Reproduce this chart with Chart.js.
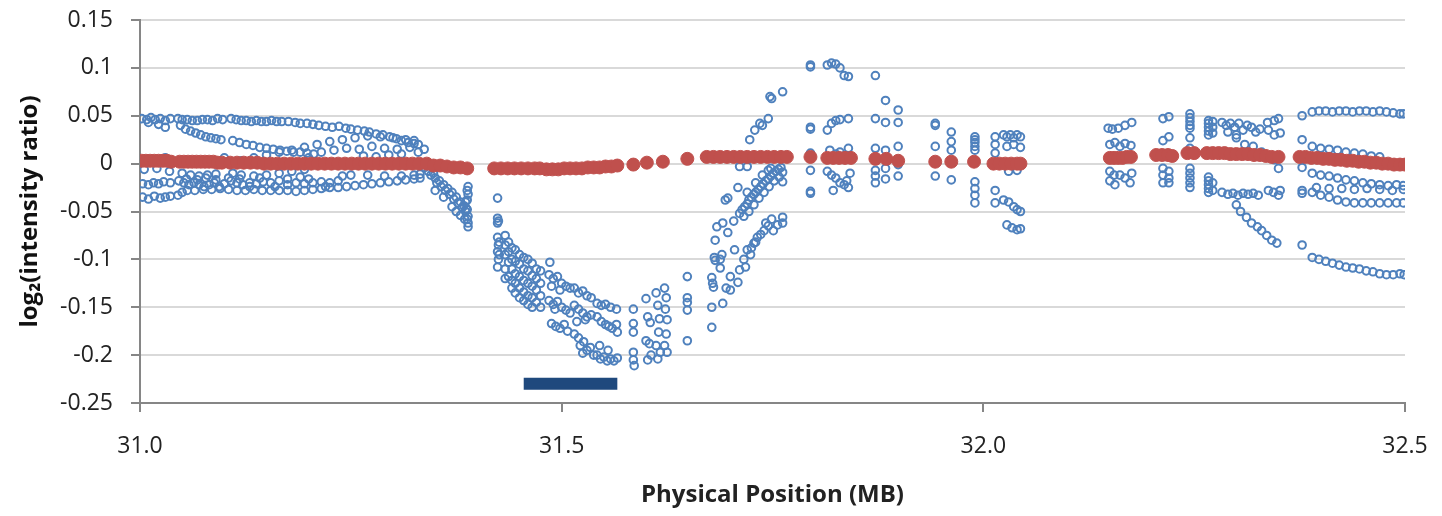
<!DOCTYPE html>
<html lang="en">
<head>
  <meta charset="UTF-8" />
  <title>log2 intensity ratio vs physical position</title>
  <script src="https://cdn.jsdelivr.net/npm/chart.js"></script>
  <style>
    body { margin: 0; background: #fff; }
  </style>
</head>
<body>
  <canvas id="chart" width="1442" height="516"></canvas>
  <script>
    // probes as [position MB, log2 ratio]
    const blueLeft = [
      [31.002,0.047],[31.008,0.046],[31.013,0.048],[31.018,0.046],[31.024,0.047],[31.030,0.045],[31.036,0.047],[31.010,0.043],[31.022,0.041],[31.030,0.038],
      [31.045,0.047],[31.050,0.046],[31.056,0.046],[31.062,0.045],[31.068,0.045],[31.074,0.046],[31.080,0.046],[31.086,0.045],[31.092,0.047],[31.098,0.046],
      [31.108,0.047],[31.114,0.046],[31.120,0.045],[31.126,0.045],[31.132,0.044],[31.138,0.045],[31.144,0.044],[31.150,0.044],[31.156,0.045],[31.162,0.044],[31.168,0.044],
      [31.176,0.044],[31.184,0.043],[31.190,0.042],[31.198,0.042],[31.205,0.041],[31.212,0.040],[31.220,0.039],[31.228,0.038],[31.236,0.039],[31.244,0.037],[31.250,0.036],
      [31.258,0.035],[31.266,0.034],[31.272,0.033],[31.280,0.031],[31.288,0.030],[31.296,0.028],[31.304,0.026],[31.310,0.024],[31.318,0.022],[31.325,0.021],[31.330,0.020],
      [31.048,0.040],[31.054,0.036],[31.060,0.034],[31.066,0.032],[31.072,0.030],[31.078,0.028],[31.084,0.027],[31.090,0.026],[31.096,0.025],
      [31.110,0.024],[31.118,0.022],[31.126,0.020],[31.134,0.019],[31.142,0.017],[31.150,0.016],[31.158,0.015],[31.166,0.014],[31.174,0.013],[31.182,0.012],[31.190,0.012],[31.198,0.011],[31.206,0.010],
      [31.120,0.003],[31.135,0.006],[31.150,0.009],[31.165,0.012],[31.180,0.014],[31.195,0.017],[31.210,0.020],[31.225,0.023],[31.240,0.025],[31.255,0.027],[31.270,0.029],[31.285,0.028],[31.300,0.027],[31.315,0.025],[31.325,0.024],
      [31.215,0.012],[31.230,0.014],[31.245,0.016],[31.260,0.015],[31.275,0.018],[31.290,0.016],[31.305,0.015],[31.320,0.017],[31.310,0.010],[31.330,0.012],[31.295,0.009],[31.265,0.008],
      [31.005,-0.006],[31.020,-0.005],[31.035,-0.008],[31.050,-0.010],[31.060,-0.012],[31.070,-0.013],[31.080,-0.012],[31.090,-0.011],[31.110,-0.010],[31.120,-0.012],[31.135,-0.013],
      [31.150,-0.012],[31.165,-0.010],[31.180,-0.008],[31.195,-0.006],[31.250,-0.012],[31.270,-0.012],[31.290,-0.013],[31.310,-0.013],[31.325,-0.012],[31.332,-0.011],
      [31.003,-0.021],[31.010,-0.022],[31.016,-0.020],[31.022,-0.021],[31.028,-0.019],[31.036,-0.020],[31.046,-0.018],[31.052,-0.020],[31.058,-0.022],[31.064,-0.020],[31.070,-0.022],
      [31.076,-0.024],[31.082,-0.022],[31.088,-0.020],[31.094,-0.024],[31.100,-0.021],[31.108,-0.018],[31.115,-0.020],[31.122,-0.022],[31.130,-0.020],[31.138,-0.021],[31.146,-0.019],
      [31.155,-0.020],[31.165,-0.018],[31.175,-0.016],[31.185,-0.020],[31.195,-0.021],[31.205,-0.020],[31.215,-0.019],[31.225,-0.020],[31.235,-0.018],
      [31.003,-0.035],[31.010,-0.037],[31.017,-0.034],[31.024,-0.036],[31.030,-0.035],[31.036,-0.034],[31.045,-0.033],[31.050,-0.030],[31.056,-0.028],[31.065,-0.028],[31.075,-0.027],
      [31.085,-0.027],[31.095,-0.026],[31.105,-0.027],[31.115,-0.028],[31.125,-0.028],[31.135,-0.027],[31.145,-0.028],[31.155,-0.028],[31.165,-0.028],[31.175,-0.028],[31.185,-0.029],
      [31.195,-0.028],[31.205,-0.027],[31.215,-0.026],[31.225,-0.025],[31.235,-0.025],[31.245,-0.024],[31.255,-0.023],[31.265,-0.022],[31.275,-0.021],[31.285,-0.020],[31.295,-0.019],
      [31.305,-0.018],[31.315,-0.017],[31.325,-0.016],[31.332,-0.015],
      [31.055,-0.016],[31.068,-0.017],[31.078,-0.015],[31.090,-0.017],[31.105,-0.015],[31.118,-0.016],[31.130,-0.024],[31.142,-0.015],[31.160,-0.024],[31.175,-0.022],[31.190,-0.014],
      [31.200,-0.016],[31.220,-0.024],[31.240,-0.013],[31.030,0.006],[31.100,0.006],[31.200,0.006],[31.280,0.007]
    ];

    const blueDip = [
      [31.337,0.015],[31.338,-0.004],[31.342,-0.008],[31.345,-0.012],[31.348,-0.010],[31.350,-0.015],[31.352,-0.020],[31.355,-0.018],[31.357,-0.024],[31.360,-0.022],[31.362,-0.028],
      [31.365,-0.026],[31.367,-0.032],[31.370,-0.030],[31.372,-0.037],[31.375,-0.035],[31.377,-0.041],[31.380,-0.040],[31.382,-0.046],[31.384,-0.044],[31.386,-0.050],[31.388,-0.048],
      [31.389,-0.055],[31.388,-0.058],[31.389,-0.062],[31.389,-0.066],[31.388,-0.038],[31.389,-0.032],[31.388,-0.028],[31.389,-0.024],[31.387,-0.047],[31.380,-0.054],[31.370,-0.045],
      [31.360,-0.035],[31.350,-0.028],[31.385,-0.058],[31.375,-0.050],[31.386,-0.040],
      [31.424,-0.036],[31.424,-0.057],[31.425,-0.060],[31.424,-0.062],[31.424,-0.077],[31.425,-0.085],[31.424,-0.092],[31.425,-0.100],[31.424,-0.108],[31.426,-0.082],[31.426,-0.095],
      [31.433,-0.075],[31.433,-0.085],[31.433,-0.095],[31.433,-0.110],[31.433,-0.120],
      [31.437,-0.082],[31.437,-0.092],[31.437,-0.103],[31.437,-0.118],
      [31.441,-0.088],[31.441,-0.100],[31.441,-0.110],[31.441,-0.122],[31.441,-0.130],
      [31.445,-0.090],[31.445,-0.102],[31.445,-0.115],[31.445,-0.125],[31.445,-0.135],
      [31.450,-0.095],[31.450,-0.105],[31.450,-0.118],[31.450,-0.130],[31.450,-0.140],
      [31.455,-0.098],[31.455,-0.110],[31.455,-0.122],[31.455,-0.134],[31.455,-0.143],
      [31.460,-0.100],[31.460,-0.112],[31.460,-0.125],[31.460,-0.138],[31.460,-0.147],
      [31.465,-0.104],[31.465,-0.117],[31.465,-0.128],[31.465,-0.140],[31.465,-0.150],
      [31.470,-0.110],[31.470,-0.120],[31.470,-0.132],[31.470,-0.145],
      [31.475,-0.112],[31.475,-0.125],[31.475,-0.138],[31.475,-0.150],
      [31.486,-0.103],[31.485,-0.116],[31.490,-0.120],[31.495,-0.118],[31.500,-0.125],[31.505,-0.128],[31.510,-0.130],[31.488,-0.128],[31.498,-0.132],
      [31.485,-0.143],[31.490,-0.147],[31.495,-0.144],[31.500,-0.150],[31.505,-0.153],[31.510,-0.156],[31.492,-0.152],
      [31.488,-0.167],[31.493,-0.170],[31.498,-0.172],[31.503,-0.168],[31.507,-0.175],
      [31.515,-0.130],[31.520,-0.135],[31.525,-0.133],[31.530,-0.138],[31.535,-0.140],
      [31.515,-0.148],[31.520,-0.152],[31.525,-0.156],[31.530,-0.160],[31.535,-0.158],[31.518,-0.165],[31.528,-0.163],
      [31.515,-0.178],[31.520,-0.182],[31.522,-0.190],[31.526,-0.186],[31.530,-0.195],[31.534,-0.192],[31.538,-0.200],[31.525,-0.198],
      [31.542,-0.146],[31.547,-0.148],[31.552,-0.147],[31.558,-0.150],[31.565,-0.152],
      [31.542,-0.160],[31.547,-0.165],[31.552,-0.168],[31.556,-0.170],[31.560,-0.172],[31.565,-0.168],[31.566,-0.176],
      [31.542,-0.200],[31.546,-0.204],[31.550,-0.202],[31.554,-0.206],[31.558,-0.204],[31.562,-0.206],[31.566,-0.203],[31.545,-0.190],[31.555,-0.195],
      [31.585,-0.152],[31.585,-0.167],[31.585,-0.176],[31.585,-0.197],[31.585,-0.205],[31.586,-0.211],
      [31.600,-0.141],[31.602,-0.160],[31.605,-0.166],[31.600,-0.185],[31.604,-0.188],[31.602,-0.205],[31.606,-0.200],
      [31.612,-0.135],[31.614,-0.148],[31.616,-0.162],[31.615,-0.176],[31.612,-0.190],[31.617,-0.197],[31.614,-0.204],
      [31.622,-0.130],[31.624,-0.140],[31.623,-0.152],[31.625,-0.163],[31.624,-0.178],[31.622,-0.190],[31.625,-0.197],
      [31.649,-0.118],[31.649,-0.140],[31.649,-0.145],[31.649,-0.153],[31.649,-0.185]
    ];

    const blueRise = [
      [31.711,-0.052],[31.714,-0.048],[31.717,-0.045],[31.720,-0.042],[31.722,-0.038],[31.725,-0.035],[31.728,-0.032],[31.730,-0.030],[31.733,-0.027],[31.736,-0.024],
      [31.739,-0.021],[31.742,-0.018],[31.745,-0.016],[31.748,-0.013],[31.751,-0.010],[31.754,-0.008],[31.757,-0.006],[31.760,-0.004],[31.716,-0.055],[31.722,-0.050],
      [31.728,-0.043],[31.734,-0.036],[31.740,-0.030],[31.746,-0.024],[31.752,-0.018],[31.758,-0.014],[31.720,-0.030],[31.730,-0.020],[31.738,-0.012],[31.748,-0.005],
      [31.711,-0.111],[31.716,-0.100],[31.720,-0.090],[31.725,-0.088],[31.728,-0.083],[31.732,-0.077],[31.736,-0.074],[31.740,-0.070],[31.745,-0.065],[31.749,-0.058],
      [31.751,-0.070],[31.756,-0.064],[31.762,-0.062],[31.762,-0.056],[31.718,-0.108],[31.724,-0.095],[31.730,-0.082],[31.742,-0.062],
      [31.723,0.025],[31.729,0.035],[31.735,0.042],[31.738,0.040],[31.745,0.047],[31.747,0.070],[31.749,0.068],[31.762,0.075],
      [31.678,-0.171],[31.678,-0.150],[31.691,-0.146],[31.678,-0.119],[31.679,-0.125],[31.680,-0.129],[31.681,-0.098],[31.682,-0.101],[31.688,-0.100],[31.690,-0.095],
      [31.682,-0.080],[31.684,-0.066],[31.691,-0.062],[31.697,-0.072],[31.694,-0.038],[31.697,-0.036],[31.688,-0.109],[31.700,-0.132],[31.695,-0.130],[31.709,-0.124],
      [31.709,-0.025],[31.711,-0.003],[31.720,-0.003],[31.745,-0.007],[31.762,-0.009],[31.762,-0.019],[31.700,-0.118],[31.705,-0.090],[31.704,-0.060]
    ];

    const bluePeak = [
      [31.795,0.103],[31.795,0.101],[31.795,0.038],[31.795,0.036],[31.795,0.011],[31.795,-0.007],[31.795,-0.029],[31.795,-0.031],
      [31.815,0.103],[31.820,0.105],[31.825,0.104],[31.830,0.100],[31.835,0.092],[31.840,0.091],
      [31.815,0.035],[31.820,0.042],[31.825,0.045],[31.830,0.046],[31.840,0.047],
      [31.818,0.014],[31.825,0.010],[31.830,0.012],[31.840,0.016],[31.835,0.008],
      [31.815,-0.008],[31.820,-0.012],[31.825,-0.015],[31.830,-0.020],[31.835,-0.022],[31.840,-0.025],[31.822,-0.028],[31.838,-0.018],[31.842,-0.010],
      [31.872,0.092],[31.872,0.047],[31.872,0.016],[31.872,-0.007],[31.872,-0.013],[31.872,-0.020],
      [31.884,0.066],[31.884,0.043],[31.884,0.014],[31.884,-0.005],[31.884,-0.016],
      [31.899,0.056],[31.899,0.043],[31.899,0.018],[31.899,-0.001],[31.899,-0.013],
      [31.943,0.042],[31.943,0.040],[31.943,0.018],[31.943,-0.013],
      [31.962,0.033],[31.962,0.023],[31.962,0.014],[31.962,-0.017],
      [31.990,0.028],[31.990,0.025],[31.990,0.022],[31.990,0.018],[31.990,0.014],[31.990,-0.019],[31.990,-0.026],[31.990,-0.033],[31.990,-0.041],
      [32.014,0.028],[32.014,0.020],[32.014,0.011],[32.014,-0.028],[32.014,-0.041],
      [32.024,0.030],[32.028,0.028],[32.032,0.030],[32.036,0.027],[32.040,0.030],[32.044,0.028],[32.028,0.018],[32.036,0.020],[32.044,0.017],
      [32.024,-0.038],[32.030,-0.040],[32.036,-0.045],[32.040,-0.048],[32.044,-0.050],[32.028,-0.064],[32.034,-0.067],[32.040,-0.069],[32.044,-0.068],
      [32.030,-0.008],[32.040,-0.007]
    ];

    const blueRight = [
      [32.148,0.037],[32.153,0.036],[32.160,0.037],[32.168,0.040],[32.176,0.043],
      [32.150,0.020],[32.156,0.022],[32.162,0.018],[32.168,0.021],[32.175,0.019],
      [32.150,-0.008],[32.155,-0.012],[32.150,-0.018],[32.156,-0.022],[32.162,-0.012],[32.168,-0.015],[32.174,-0.020],[32.176,-0.010],
      [32.213,0.047],[32.220,0.049],[32.213,0.024],[32.220,0.028],[32.213,-0.005],[32.220,-0.008],[32.213,-0.012],[32.220,-0.015],[32.213,-0.020],[32.220,-0.020],
      [32.245,0.052],[32.245,0.048],[32.245,0.044],[32.245,0.040],[32.245,0.037],[32.245,0.027],[32.245,0.016],[32.245,-0.005],[32.245,-0.010],[32.245,-0.015],[32.245,-0.020],[32.245,-0.025],
      [32.267,0.045],[32.267,0.042],[32.267,0.038],[32.267,0.034],[32.267,0.030],[32.272,0.044],[32.272,0.038],[32.272,0.032],
      [32.267,-0.014],[32.267,-0.018],[32.267,-0.022],[32.267,-0.026],[32.267,-0.030],[32.272,-0.020],[32.272,-0.028],
      [32.283,0.043],[32.288,0.040],[32.293,0.042],[32.298,0.038],[32.303,0.042],[32.308,0.035],[32.313,0.040],[32.318,0.038],[32.323,0.033],[32.328,0.036],[32.290,0.033],[32.300,0.030],
      [32.300,0.027],[32.310,0.020],[32.320,0.018],[32.330,0.012],
      [32.283,-0.030],[32.290,-0.032],[32.296,-0.031],[32.302,-0.033],[32.308,-0.031],[32.314,-0.032],[32.320,-0.031],[32.326,-0.033],
      [32.300,-0.043],[32.305,-0.050],[32.312,-0.056],[32.318,-0.062],[32.325,-0.066],[32.330,-0.070],[32.336,-0.075],[32.342,-0.080],[32.348,-0.083],
      [32.337,0.043],[32.345,0.045],[32.350,0.047],[32.338,0.035],[32.345,0.030],[32.352,0.032],
      [32.338,-0.028],[32.344,-0.030],[32.350,-0.033],[32.352,-0.028],[32.345,0.004],[32.350,-0.005],
      [32.378,0.050],[32.378,0.025],[32.378,-0.004],[32.378,-0.028],[32.378,-0.031],[32.378,-0.085],
      [32.390,0.054],[32.398,0.055],[32.406,0.055],[32.414,0.054],[32.422,0.055],[32.430,0.055],[32.438,0.054],[32.446,0.055],[32.454,0.055],[32.462,0.054],[32.470,0.055],[32.478,0.054],[32.486,0.053],[32.494,0.052],[32.498,0.052],
      [32.390,0.018],[32.400,0.016],[32.410,0.015],[32.420,0.014],[32.430,0.012],[32.440,0.011],[32.450,0.010],[32.460,0.008],[32.470,0.007],
      [32.390,-0.010],[32.400,-0.012],[32.410,-0.013],[32.420,-0.015],[32.430,-0.017],[32.440,-0.018],[32.450,-0.020],[32.460,-0.021],[32.470,-0.022],[32.480,-0.023],[32.490,-0.022],[32.498,-0.023],
      [32.395,-0.025],[32.410,-0.026],[32.425,-0.026],[32.440,-0.027],[32.455,-0.026],[32.470,-0.027],[32.485,-0.028],[32.498,-0.027],
      [32.390,-0.030],[32.400,-0.033],[32.410,-0.035],[32.420,-0.038],[32.430,-0.040],[32.440,-0.041],[32.450,-0.041],[32.460,-0.041],[32.470,-0.041],[32.480,-0.041],[32.490,-0.041],[32.498,-0.041],
      [32.390,-0.098],[32.398,-0.100],[32.406,-0.102],[32.414,-0.104],[32.422,-0.106],[32.430,-0.108],[32.438,-0.109],[32.446,-0.110],[32.454,-0.112],[32.462,-0.113],[32.470,-0.115],[32.478,-0.116],[32.486,-0.116],[32.494,-0.115],[32.499,-0.116]
    ];

    // reference probes
    const redPts = [
      [31.002,0.003],[31.007,0.003],[31.012,0.003],[31.017,0.003],[31.022,0.003],[31.027,0.003],[31.032,0.003],[31.037,0.002],
      [31.047,0.002],[31.052,0.002],[31.057,0.002],[31.062,0.002],[31.067,0.002],[31.072,0.002],[31.077,0.002],[31.082,0.002],[31.087,0.002],[31.092,0.001],[31.097,0.001],
      [31.107,0.001],[31.115,0.001],[31.123,0.001],[31.131,0.001],[31.139,0.001],[31.147,0.000],[31.155,0.000],[31.163,0.000],[31.171,0.000],[31.179,0.000],
      [31.187,0.000],[31.195,0.000],[31.203,0.000],[31.211,0.000],[31.219,0.000],[31.227,0.000],[31.235,0.000],[31.243,0.000],[31.251,0.000],[31.259,0.000],
      [31.267,0.000],[31.275,0.000],[31.283,0.000],[31.291,0.000],[31.299,0.000],[31.307,0.000],[31.315,0.000],[31.323,0.000],[31.331,0.000],
      [31.340,0.000],[31.348,-0.002],[31.356,-0.002],[31.364,-0.003],[31.372,-0.004],[31.380,-0.004],[31.388,-0.005],
      [31.420,-0.005],[31.428,-0.005],[31.436,-0.005],[31.444,-0.005],[31.452,-0.005],[31.460,-0.005],[31.468,-0.005],[31.474,-0.005],
      [31.482,-0.006],[31.489,-0.006],[31.496,-0.006],[31.503,-0.005],[31.510,-0.005],[31.517,-0.005],[31.524,-0.005],[31.531,-0.004],[31.538,-0.004],
      [31.545,-0.004],[31.552,-0.003],[31.559,-0.003],[31.566,-0.002],
      [31.585,-0.001],[31.601,0.001],[31.620,0.002],[31.649,0.005],
      [31.672,0.007],[31.680,0.007],[31.688,0.007],[31.696,0.007],[31.704,0.007],[31.712,0.007],[31.720,0.007],[31.728,0.007],[31.736,0.007],[31.744,0.007],
      [31.752,0.007],[31.760,0.007],[31.767,0.007],
      [31.795,0.007],[31.815,0.006],[31.822,0.006],[31.829,0.006],[31.836,0.006],[31.843,0.006],[31.872,0.005],[31.885,0.005],[31.899,0.003],
      [31.943,0.002],[31.962,0.002],[31.989,0.002],[32.012,0.000],[32.019,0.000],[32.026,0.000],[32.033,0.000],[32.040,0.000],[32.044,0.000],
      [32.150,0.006],[32.155,0.006],[32.160,0.006],[32.165,0.006],[32.170,0.007],[32.175,0.007],
      [32.205,0.009],[32.212,0.009],[32.219,0.009],[32.224,0.008],[32.242,0.011],[32.250,0.011],[32.265,0.011],[32.272,0.011],[32.279,0.011],[32.286,0.011],
      [32.293,0.010],[32.300,0.010],[32.307,0.010],[32.314,0.010],[32.321,0.009],[32.328,0.009],[32.335,0.008],[32.342,0.007],[32.350,0.007],
      [32.375,0.007],[32.382,0.007],[32.389,0.006],[32.396,0.006],[32.403,0.005],[32.410,0.005],[32.417,0.004],[32.424,0.004],[32.431,0.003],[32.438,0.003],
      [32.445,0.002],[32.452,0.002],[32.459,0.001],[32.466,0.001],[32.473,0.000],[32.480,0.000],[32.487,-0.001],[32.494,-0.001],[32.500,-0.001]
    ];

    // deleted region marker
    const barStart = 31.455;
    const barEnd = 31.566;
    const barLevel = -0.23;

    const toXY = pts => pts.map(p => ({ x: p[0], y: p[1] }));
    const bluePts = [].concat(blueLeft, blueDip, blueRise, bluePeak, blueRight);

    const tickFont = { family: 'Open Sans', size: 23 };
    const titleFont = { family: 'Open Sans', size: 24, weight: 'bold' };

    new Chart(document.getElementById('chart'), {
      type: 'scatter',
      data: {
        datasets: [
          {
            data: toXY(redPts),
            pointRadius: 6.5,
            pointBackgroundColor: '#C0504D',
            pointBorderColor: '#C0504D',
            pointBorderWidth: 1
          },
          {
            data: toXY(bluePts),
            pointRadius: 3.8,
            pointBackgroundColor: 'rgba(0,0,0,0)',
            pointBorderColor: '#4F81BD',
            pointBorderWidth: 2
          },
          {
            type: 'line',
            data: [{ x: barStart, y: barLevel }, { x: barEnd, y: barLevel }],
            borderColor: '#1F497D',
            borderWidth: 12,
            pointRadius: 0,
            borderCapStyle: 'butt'
          }
        ]
      },
      options: {
        responsive: false,
        animation: false,
        layout: { padding: { top: 20, right: 37, bottom: 0, left: 16 } },
        plugins: {
          legend: { display: false },
          tooltip: { enabled: false }
        },
        scales: {
          x: {
            type: 'linear',
            min: 31,
            max: 32.5,
            afterFit: s => { s.height = 113; s.paddingLeft = 0; s.paddingRight = 0; },
            border: { color: '#868686', width: 2 },
            grid: { drawOnChartArea: false, tickColor: '#868686', tickLength: 9, lineWidth: 2 },
            ticks: {
              stepSize: 0.5,
              padding: 21,
              color: '#222',
              font: tickFont,
              maxRotation: 0,
              callback: v => v.toFixed(1)
            },
            title: {
              display: true,
              text: 'Physical Position (MB)',
              color: '#222',
              font: titleFont,
              padding: { top: 0, bottom: 6 }
            }
          },
          y: {
            min: -0.25,
            max: 0.15,
            afterFit: s => { s.width = 124; s.paddingTop = 0; s.paddingBottom = 0; },
            border: { color: '#868686', width: 2 },
            grid: { color: '#D9D9D9', tickColor: '#868686', tickLength: 9, lineWidth: 2 },
            ticks: {
              stepSize: 0.05,
              padding: 18,
              color: '#222',
              font: tickFont,
              callback: v => String(Number(v.toFixed(2)))
            },
            title: {
              display: true,
              text: 'log\u2082(intensity ratio)',
              color: '#111',
              font: titleFont,
              padding: { top: 0, bottom: 0 }
            }
          }
        }
      }
    });
  </script>
</body>
</html>
